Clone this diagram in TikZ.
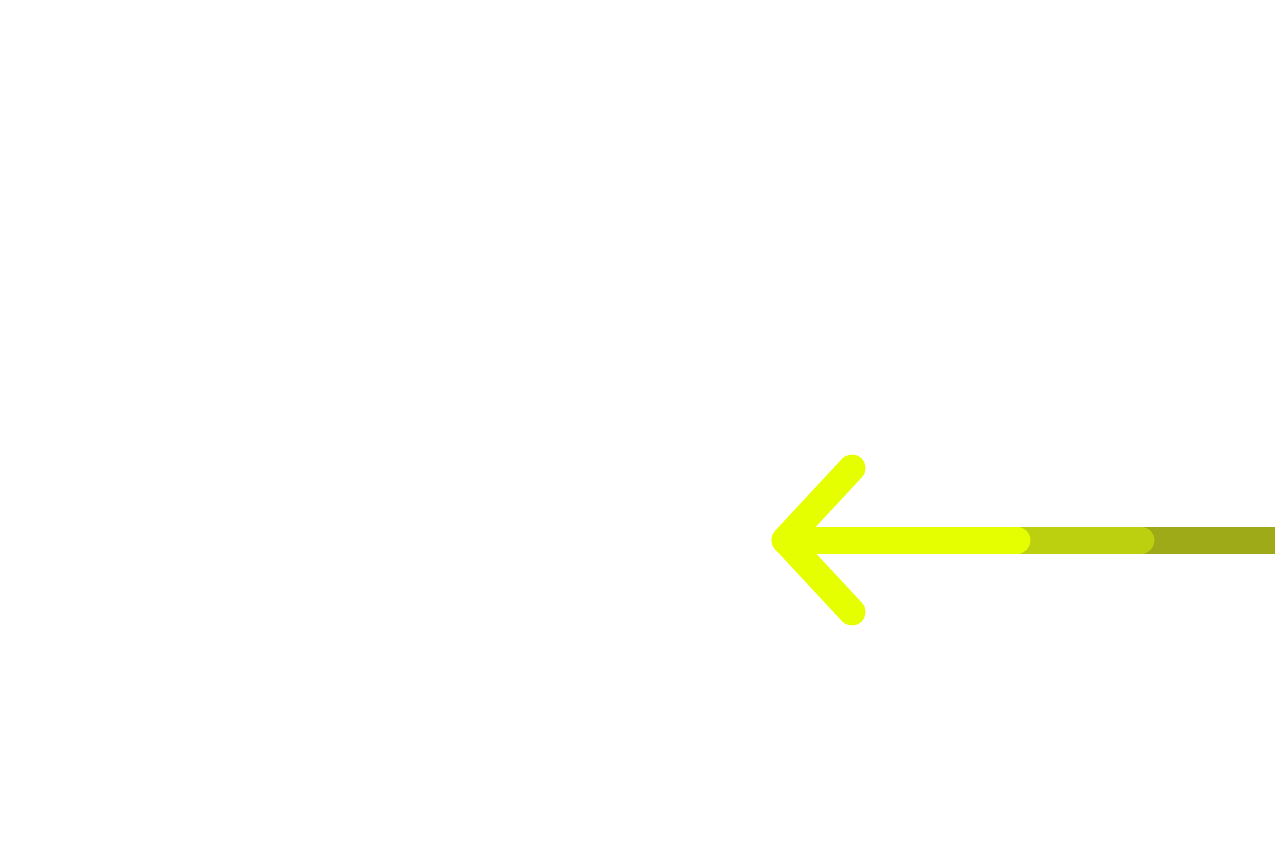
\documentclass[tikz,border=0pt]{standalone}
\definecolor{yel}{HTML}{E5FF00}
\definecolor{midg}{HTML}{BCD010}
\definecolor{darkg}{HTML}{9EAA18}
\begin{document}
\begin{tikzpicture}[x=1pt,y=-1pt,seg/.style={line width=27pt}]
\useasboundingbox (0,0) rectangle (1275,850);
\clip (0,0) rectangle (1275,850);
\fill[white] (0,0) rectangle (1275,850);
\coordinate (tip) at (785,540);
\coordinate (a1) at (852,468);
\coordinate (a2) at (852,612);
\coordinate (s1) at (1017,540);
\coordinate (s2) at (1141,540);
\coordinate (s3) at (1300,540);
\draw[seg,darkg] (1140,540) -- (s3);
\draw[seg,midg,line cap=round] (1010,540) -- (s2);
\draw[seg,yel,line cap=round,line join=round] (a1) -- (tip) -- (a2);
\draw[seg,yel,line cap=round] (tip) -- (s1);
\end{tikzpicture}
\end{document}
